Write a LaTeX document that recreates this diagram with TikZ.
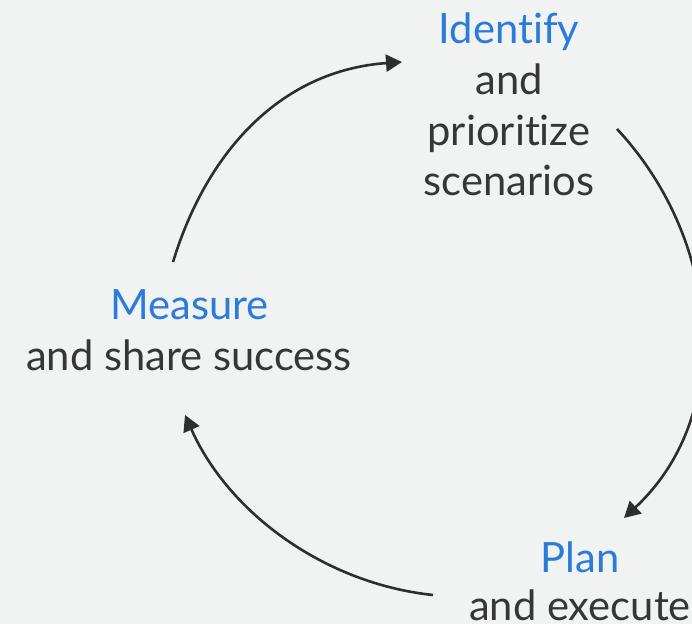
\documentclass[tikz,border=0pt]{standalone}
\usepackage{fontspec}
\setmainfont{Lato}[Ligatures=NoCommon]
\usetikzlibrary{arrows.meta}
\definecolor{bg}{HTML}{F1F2F2}
\definecolor{headblue}{HTML}{2B7BDB}
\definecolor{bodygray}{HTML}{363636}
\definecolor{arrowgray}{HTML}{2E2E2E}
\begin{document}
\begin{tikzpicture}[x=1pt,y=1pt,
  lbl/.style={anchor=base,inner sep=0pt,font=\fontsize{41.7}{50}\selectfont},
  head/.style={lbl,text=headblue},
  body/.style={lbl,text=bodygray},
  cyc/.style={draw=arrowgray,line width=2.6pt,-{Triangle[length=16pt,width=17pt]}}]
\fill[bg] (0,0) rectangle (692,624);
\useasboundingbox (0,0) rectangle (692,624);
\clip (0,0) rectangle (692,624);
% labels
\node[head] (id1) at (509,580) {Identify};
\node[body] (id2) at (509,529) {and};
\node[body] (id3) at (509,478) {prioritize};
\node[body] (id4) at (509,428) {scenarios};
\node[head] (pl1) at (580,52) {Plan};
\node[body] (pl2) at (580,4) {and execute};
\node[head] (me1) at (189.5,304) {Measure};
\node[body] (me2) at (189,254) {and share success};
% arc end points
\coordinate (a1s) at (173,362);
\coordinate (a1e) at (402,562);
\coordinate (a2s) at (617,495);
\coordinate (a2e) at (624,106);
\coordinate (a3s) at (433,29);
\coordinate (a3e) at (185,209);
\draw[cyc] (a1s) to[out=73,in=184] (a1e);
\draw[cyc] (a2s) to[out=-47,in=43] (a2e);
\draw[cyc] (a3s) to[out=174,in=-66,looseness=0.9] (a3e);
\end{tikzpicture}
\end{document}
